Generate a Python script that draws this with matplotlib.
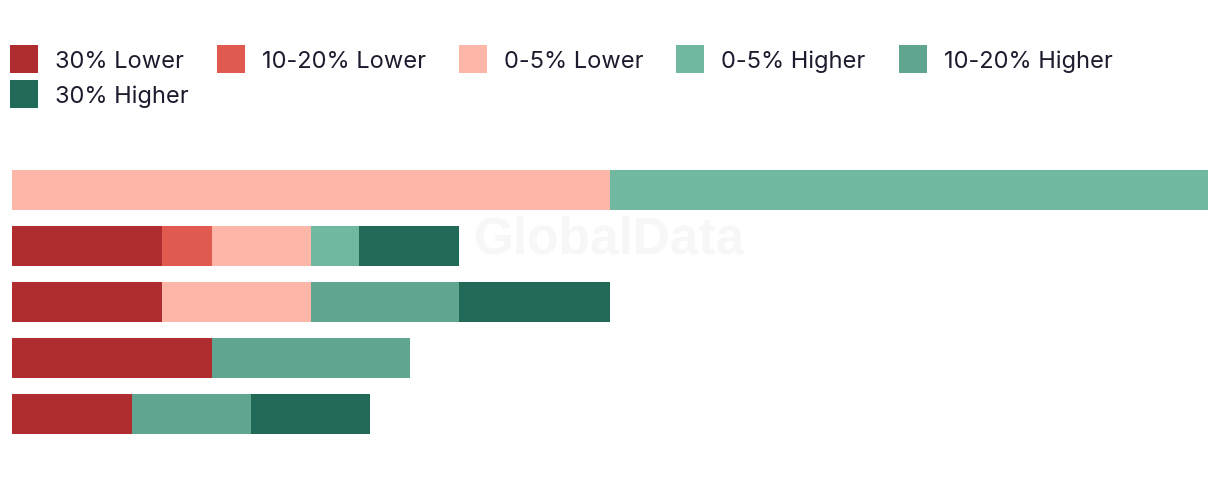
"""Stacked horizontal bars: share of responses by expected change band."""
import matplotlib
matplotlib.use("Agg")
import matplotlib.pyplot as plt
from matplotlib.patches import Rectangle

rows = ["Row 1", "Row 2", "Row 3", "Row 4", "Row 5"]
series_names = ["30% Lower", "10-20% Lower", "0-5% Lower",
                "0-5% Higher", "10-20% Higher", "30% Higher"]
lower_30 = [0, 12.5, 12.5, 16.7, 10.0]
lower_10_20 = [0, 4.2, 0, 0, 0]
lower_0_5 = [50.0, 8.3, 12.5, 0, 0]
higher_0_5 = [50.0, 4.0, 0, 0, 0]
higher_10_20 = [0, 0, 12.4, 16.6, 10.0]
higher_30 = [0, 8.4, 12.6, 0, 9.9]
series_values = [lower_30, lower_10_20, lower_0_5, higher_0_5, higher_10_20, higher_30]
colors = ["#AF2C2F", "#E05A4F", "#FDB6A8", "#70B8A0", "#5FA58F", "#206A57"]

plt.rcParams["font.family"] = ["Inter", "DejaVu Sans"]
W, H = 1220, 478
fig = plt.figure(figsize=(W / 100, H / 100), dpi=100)
ax = fig.add_axes([12 / W, 1 - 442 / H, 1196 / W, 280 / H])

# watermark behind the bars
fig.text(610 / W, 1 - 240 / H, "GlobalData", ha="center", va="center",
         fontsize=37, fontweight="bold", color="#F7F7F7",
         family=["Liberation Sans", "DejaVu Sans"], zorder=0)

ypos = list(range(len(rows)))
left = [0.0] * len(rows)
for name, vals, col in zip(series_names, series_values, colors):
    ax.barh(ypos, vals, left=left, height=40 / 56, color=col, label=name,
            linewidth=0, zorder=2)
    left = [l + v for l, v in zip(left, vals)]

ax.set_xlim(0, 100)
ax.set_ylim(len(rows) - 0.5, -0.5)
ax.axis("off")
ax.patch.set_alpha(0)

# legend drawn by hand so items flow left to right and wrap like the original
renderer = fig.canvas.get_renderer()
x = 10
row_y = [45, 80]
for i, (name, col) in enumerate(zip(series_names, colors)):
    if i == 5:
        x = 10
    y = row_y[0] if i < 5 else row_y[1]
    fig.patches.append(Rectangle((x / W, 1 - (y + 28) / H), 28 / W, 28 / H,
                                 transform=fig.transFigure, color=col,
                                 linewidth=0))
    t = fig.text((x + 45) / W, 1 - (y + 14) / H, name, ha="left",
                 va="center_baseline", fontsize=17, color="#1C1C2E")
    bb = t.get_window_extent(renderer)
    x = bb.x1 + 33

fig.savefig("out.png", dpi=100)
